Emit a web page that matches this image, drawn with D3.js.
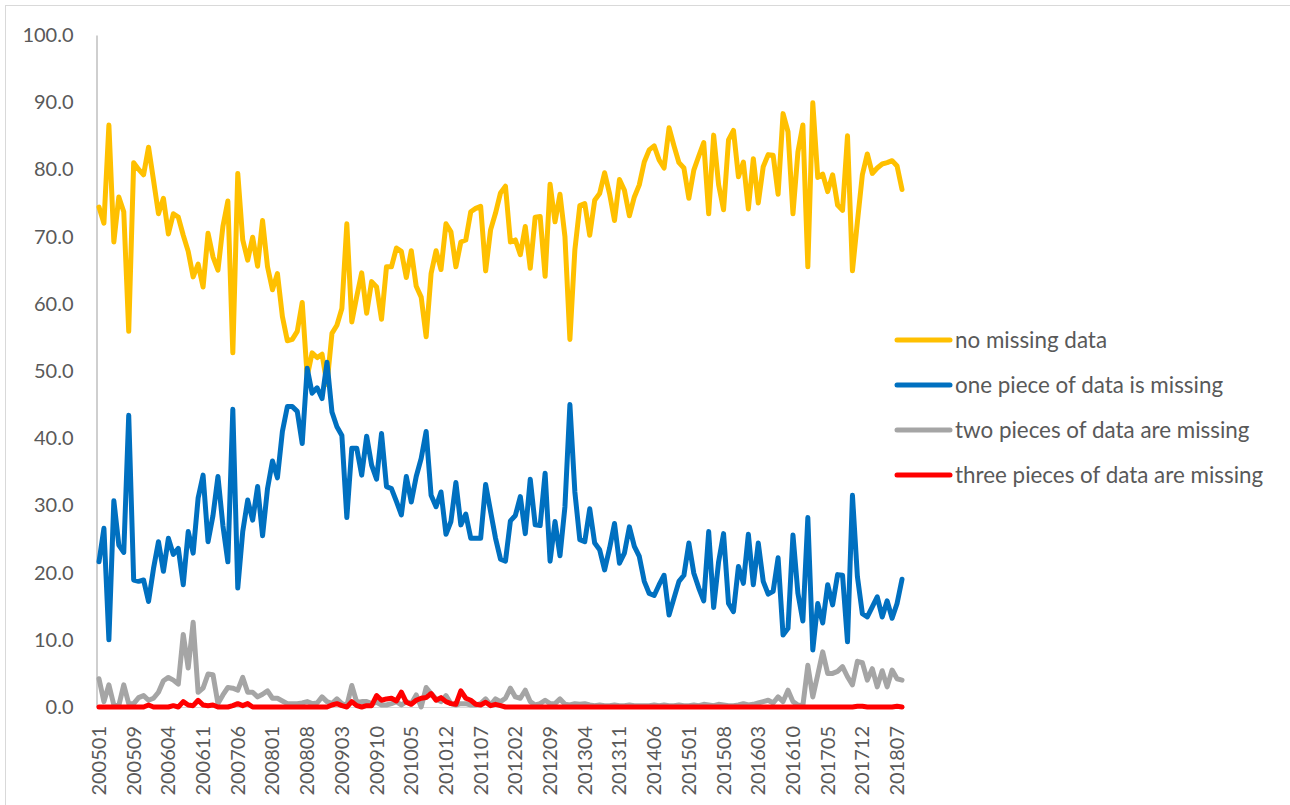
<!DOCTYPE html>
<html>
<head>
<meta charset="utf-8">
<script src="https://cdn.jsdelivr.net/npm/d3@7"></script>
<style>
  html, body { margin: 0; padding: 0; background: #fff; }
  svg { display: block; }
  text { font-family: Lato, "Open Sans", "Liberation Sans", sans-serif; fill: #595959; }
</style>
</head>
<body>
<svg id="chart" width="1290" height="805"></svg>
<script>
// ---- Data ----
const startMonths = ["200501", "200503", "200504", "200505", "200506", "200507", "200508"];
const categories = (function () {
  const out = startMonths.slice();
  for (let y = 2005; y <= 2018; y++) {
    for (let m = 1; m <= 12; m++) {
      if (y === 2005 && m < 9) continue;
      if (y === 2018 && m > 8) continue;
      out.push(String(y) + (m < 10 ? "0" + m : String(m)));
    }
  }
  return out;
})();

const tickLabels = ["200501","200509","200604","200611","200706","200801","200808","200903","200910","201005","201012","201107",
  "201202","201209","201304","201311","201406","201501","201508","201603","201610","201705","201712","201807"];

const seriesNames = ["no missing data", "one piece of data is missing", "two pieces of data are missing", "three pieces of data are missing"];
const seriesColors = ["#FFC000", "#0070C0", "#A5A5A5", "#FF0000"];

const noMissing = [74.4,72.0,86.6,69.2,75.9,73.7,55.9,81.0,80.0,79.2,83.3,78.4,73.4,75.7,70.4,73.4,72.9,70.2,67.8,64.0,
  65.9,62.5,70.5,67.0,65.0,71.5,75.3,52.7,79.4,69.5,66.5,69.9,65.6,72.4,65.5,62.1,64.5,58.1,54.5,54.7,
  55.9,60.2,49.2,52.7,52.0,52.5,48.0,55.6,56.8,59.3,71.9,57.3,61.1,64.6,58.6,63.3,62.5,57.7,65.5,65.5,
  68.3,67.8,63.9,67.9,62.6,61.0,55.1,64.5,67.9,65.1,71.9,70.7,65.5,69.2,69.5,73.7,74.2,74.5,64.9,71.0,
  73.5,76.5,77.5,69.2,69.5,67.3,71.5,65.3,72.9,73.0,64.1,77.8,72.2,76.3,70.0,54.7,68.0,74.6,74.9,70.2,
  75.4,76.4,79.5,76.4,72.4,78.5,76.9,73.1,75.9,77.7,81.1,82.9,83.5,81.4,80.2,86.2,83.5,81.0,80.2,75.7,
  79.9,82.0,84.0,73.4,85.1,77.7,74.0,84.4,85.8,78.9,81.1,74.1,81.6,75.0,80.4,82.2,82.1,76.3,88.3,85.6,
  73.4,82.6,86.6,65.5,89.9,78.8,79.3,76.7,79.2,74.7,73.9,85.0,64.9,72.2,79.2,82.3,79.4,80.2,80.8,81.0,
  81.3,80.5,77.0];

const oneMissing = [21.6,26.6,10.0,30.7,24.1,23.0,43.4,18.9,18.7,18.9,15.7,20.6,24.6,20.2,25.1,22.7,23.6,18.2,26.1,22.9,
  31.1,34.5,24.6,28.5,34.3,27.0,21.6,44.3,17.7,26.1,30.8,27.8,32.8,25.5,32.5,36.6,34.1,41.0,44.7,44.7,
  44.0,39.2,50.4,46.7,47.5,45.9,51.3,43.9,41.7,40.4,28.2,38.5,38.5,34.5,40.3,36.0,33.9,40.7,32.8,32.5,
  30.6,28.6,34.3,30.5,34.3,37.0,41.0,31.5,29.8,32.0,25.7,27.6,33.4,27.1,28.7,25.1,25.1,25.1,33.1,29.1,
  25.1,22.0,21.7,27.7,28.5,31.3,25.8,33.9,27.1,27.0,34.8,21.7,27.6,22.5,29.8,45.0,32.0,24.9,24.6,29.5,
  24.4,23.4,20.4,23.6,27.3,21.4,22.9,26.8,23.9,22.4,18.7,16.9,16.6,18.2,19.6,13.7,16.2,18.7,19.6,24.4,
  19.9,17.7,15.8,26.1,14.8,21.6,25.8,15.4,14.2,20.9,18.4,25.7,18.2,24.4,18.7,16.8,17.2,22.2,10.7,11.7,
  25.6,16.9,12.8,28.2,8.5,15.4,12.5,18.2,15.2,19.7,19.6,9.7,31.5,19.4,13.9,13.4,14.9,16.4,13.4,15.8,
  13.2,15.4,19.0];

const twoMissing = [4.2,0.8,3.3,0.3,0.2,3.3,0.5,0.5,1.4,1.7,1.0,1.3,2.2,3.9,4.4,4.0,3.4,10.8,5.8,12.6,
  2.2,2.8,4.9,4.8,0.5,1.8,2.9,2.8,2.5,4.4,2.2,2.2,1.5,1.9,2.4,1.3,1.3,0.9,0.5,0.5,
  0.5,0.6,0.8,0.5,0.6,1.5,0.8,0.5,1.2,0.5,0.2,3.2,0.7,0.8,0.8,0.5,0.7,0.3,0.3,0.5,
  0.8,0.3,0.8,0.5,1.8,0.0,2.9,2.0,1.2,0.8,1.7,0.5,0.3,0.5,0.5,0.3,0.3,0.5,1.2,0.3,
  1.2,0.8,1.3,2.8,1.5,1.3,2.5,0.8,0.3,0.5,1.0,0.5,0.5,1.2,0.4,0.3,0.5,0.4,0.5,0.3,
  0.2,0.3,0.2,0.2,0.3,0.2,0.2,0.3,0.2,0.2,0.2,0.2,0.3,0.2,0.3,0.2,0.2,0.3,0.2,0.2,
  0.3,0.2,0.4,0.3,0.2,0.4,0.3,0.2,0.2,0.3,0.5,0.3,0.4,0.6,0.8,1.0,0.6,1.5,0.8,2.5,
  0.8,0.3,0.2,6.2,1.5,4.8,8.2,5.0,5.0,5.3,6.0,4.5,3.3,6.8,6.6,4.0,5.7,3.0,5.4,3.0,
  5.5,4.2,4.0];

const threeMissing = [0,0,0,0,0,0,0,0,0,0,0.3,0,0,0,0,0.2,0,0.8,0.3,0.2,
  1.0,0.3,0.2,0.3,0,0,0,0.2,0.5,0.2,0.5,0,0,0,0,0,0,0,0,0,
  0,0,0,0,0,0,0,0.3,0.5,0.2,0,0.8,0.2,0,0.2,0.2,1.7,1.0,1.2,1.3,
  0.9,2.2,0.7,0.4,1.0,1.3,1.4,2.0,1.0,1.4,0.8,0.5,0.4,2.4,1.3,1.0,0.4,0.3,0.7,0.2,
  0.4,0.2,0,0,0,0,0,0,0,0,0,0,0,0,0,0,0,0,0,0,
  0,0,0,0,0,0,0,0,0,0,0,0,0,0,0,0,0,0,0,0,
  0,0,0,0,0,0,0,0,0,0,0,0,0,0,0,0,0,0,0,0,
  0,0,0,0,0,0,0,0,0,0,0,0,0,0.1,0.1,0,0,0,0,0,
  0,0.1,0];

const yTicks = [0, 10, 20, 30, 40, 50, 60, 70, 80, 90, 100];

// ---- Chart ----
const svg = d3.select("#chart");

// outer chart frame (only top/left edges fall inside the picture)
svg.append("rect")
  .attr("x", 5.5).attr("y", 5.5)
  .attr("width", 1300).attr("height", 820)
  .attr("fill", "#fff").attr("stroke", "#d9d9d9").attr("stroke-width", 1);

const plot = { left: 96.5, right: 904.5, top: 35, bottom: 707 };

const x = d3.scaleBand().domain(categories).range([plot.left, plot.right]).paddingInner(0).paddingOuter(0);
const y = d3.scaleLinear().domain([0, 100]).range([plot.bottom, plot.top]);
const xc = c => x(c) + x.bandwidth() / 2;

// Y axis
const yAxis = d3.axisLeft(y).tickValues(yTicks).tickFormat(d3.format(".1f")).tickSize(0).tickPadding(23);
const gy = svg.append("g").attr("transform", `translate(${plot.left},0)`).call(yAxis);
gy.select(".domain").attr("stroke", "#bfbfbf").attr("stroke-width", 1.5);
gy.selectAll("text").style("font-size", "20px").attr("fill", "#595959");

// X axis
const xAxis = d3.axisBottom(x).tickValues(tickLabels).tickSize(0).tickPadding(0);
const gx = svg.append("g").attr("transform", `translate(0,${plot.bottom})`).call(xAxis);
gx.select(".domain").attr("stroke", "#d9d9d9").attr("stroke-width", 1);
gx.selectAll("text")
  .style("font-size", "20px")
  .attr("fill", "#595959")
  .attr("text-anchor", "end")
  .attr("transform", "translate(0,19) rotate(-90)")
  .attr("x", 0).attr("y", 0).attr("dy", "0.35em");

// Lines
const allSeries = [noMissing, oneMissing, twoMissing, threeMissing];
const line = d3.line().x((d, i) => xc(categories[i])).y(d => y(d));

allSeries.forEach((s, k) => {
  svg.append("path")
    .datum(s)
    .attr("d", line)
    .attr("fill", "none")
    .attr("stroke", seriesColors[k])
    .attr("stroke-width", 5)
    .attr("stroke-linejoin", "round")
    .attr("stroke-linecap", "round");
});

// Legend
const legendY = d3.scalePoint().domain(seriesNames).range([340, 475]);
const lg = svg.append("g");
seriesNames.forEach((name, k) => {
  const ly = legendY(name);
  lg.append("line")
    .attr("x1", 897).attr("x2", 950)
    .attr("y1", ly).attr("y2", ly)
    .attr("stroke", seriesColors[k]).attr("stroke-width", 5)
    .attr("stroke-linecap", "round");
  lg.append("text")
    .attr("x", 955).attr("y", ly).attr("dy", "0.35em")
    .style("font-size", "22.4px")
    .text(name);
});
</script>
</body>
</html>
